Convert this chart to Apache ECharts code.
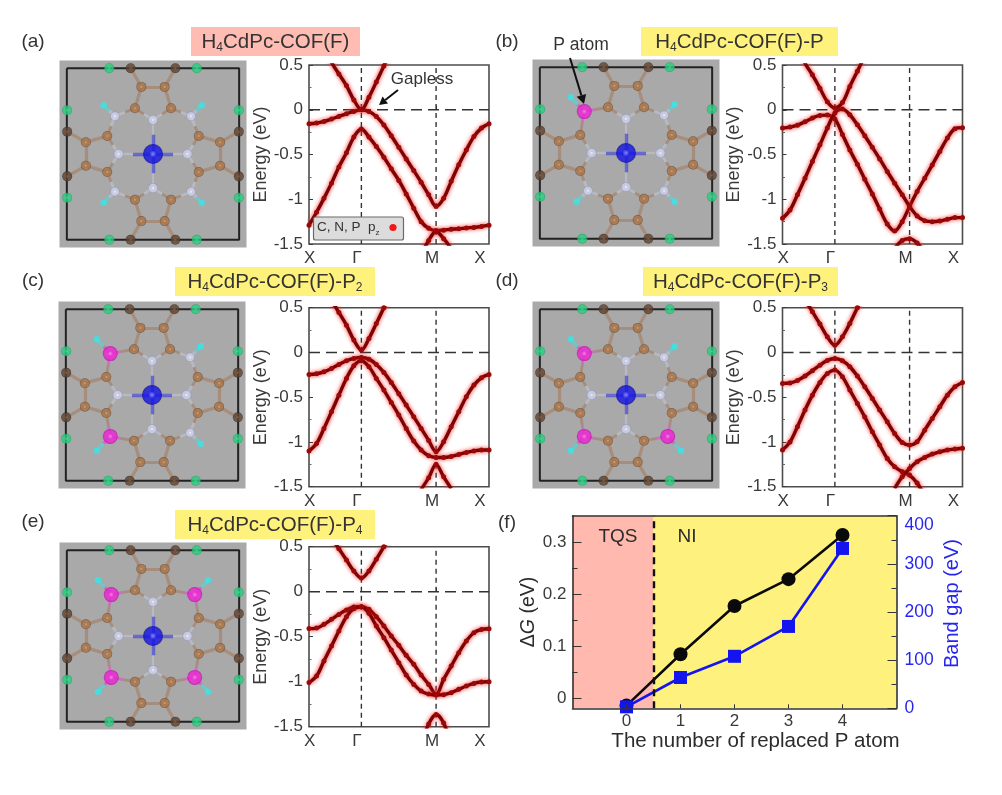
<!DOCTYPE html>
<html><head><meta charset="utf-8">
<style>html,body{margin:0;padding:0;background:#fff}#c{width:1002px;height:795px;filter:blur(0.45px)}</style>
<script src="https://cdn.jsdelivr.net/npm/echarts@6/dist/echarts.min.js"></script>
</head><body><div id="c"></div>
<script>
const GAMMA = 0.291, MPOINT = 0.706;
const kPath = [0,.042,.083,.125,.166,.208,.249,.291,.333,.374,.416,.457,.499,.540,.582,.623,.665,.706,.748,.790,.832,.874,.916,.958,1];
const kLabels = ['X','Γ','M','X'];
const kLabelPos = [0.004,.266,.684,.95];
const n = null;

const aBand1 = [-.157,-.149,-.131,-.104,-.075,-.045,-.019,0,-.02,-.075,-.17,-.29,-.42,-.55,-.68,-.81,-.95,-1.08,-.99,-.80,-.615,-.45,-.30,-.205,-.157];
const aBand2 = [-1.29,-1.145,-.99,-.82,-.64,-.48,-.305,-.215,-.305,-.41,-.53,-.66,-.79,-.94,-1.10,-1.25,-1.325,-1.35,-1.345,-1.335,-1.33,-1.32,-1.315,-1.305,-1.29];
const aCond  = [.95,.85,.72,.53,.40,.27,.11,0,.14,.31,.49,.67,n,n,n,n,n,n,n,n,n,n,n,n,n];
const aLow   = [n,n,n,n,n,n,n,n,n,n,n,n,n,n,n,-1.62,-1.46,-1.36,-1.44,-1.55,n,n,n,n,n];

const bBand1 = [-.205,-.194,-.172,-.134,-.093,-.063,-.06,-.104,-.276,-.45,-.61,-.776,-.94,-1.11,-1.276,-1.355,-1.25,-1.08,-.914,-.765,-.616,-.466,-.317,-.213,-.2];
const bBand2 = [-1.213,-1.12,-.95,-.765,-.578,-.392,-.205,-.037,.007,-.056,-.168,-.29,-.42,-.55,-.69,-.82,-.95,-1.08,-1.186,-1.24,-1.25,-1.243,-1.224,-1.205,-1.205];
const bCond  = [.95,.85,.72,.52,.39,.24,.09,.02,.08,.26,.43,.60,n,n,n,n,n,n,n,n,n,n,n,n,n];
const bLow   = [n,n,n,n,n,n,n,n,n,n,n,n,n,n,n,-1.55,-1.46,-1.44,-1.49,-1.6,n,n,n,n,n];

const cBand1 = [-.246,-.238,-.216,-.179,-.134,-.093,-.067,-.056,-.075,-.134,-.223,-.335,-.462,-.588,-.719,-.849,-.983,-1.11,-.998,-.83,-.663,-.495,-.365,-.283,-.246];
const cBand2 = [-1.10,-1.017,-.85,-.663,-.477,-.29,-.149,-.093,-.16,-.29,-.42,-.559,-.70,-.85,-.99,-1.09,-1.155,-1.173,-1.173,-1.162,-1.14,-1.117,-1.10,-1.09,-1.09];
const cCond  = [1.0,.87,.74,.585,.447,.305,.138,.026,.156,.324,.5,.68,n,n,n,n,n,n,n,n,n,n,n,n,n];
const cLow   = [n,n,n,n,n,n,n,n,n,n,n,n,n,n,n,-1.53,-1.40,-1.25,-1.39,-1.52,n,n,n,n,n];

const dBand1 = [-.346,-.34,-.313,-.264,-.205,-.142,-.089,-.067,-.093,-.16,-.264,-.384,-.514,-.644,-.775,-.905,-1.005,-1.035,-.998,-.868,-.737,-.607,-.477,-.384,-.335];
const dBand2 = [-1.09,-1.0,-.83,-.644,-.477,-.335,-.235,-.197,-.272,-.42,-.57,-.72,-.886,-1.035,-1.184,-1.277,-1.333,-1.37,-1.46,-1.6,n,n,n,n,n];
const dBand3 = [n,n,n,n,n,n,n,n,n,n,n,n,n,n,n,-1.52,-1.39,-1.296,-1.22,-1.173,-1.136,-1.11,-1.09,-1.08,-1.07];
const dCond  = [n,n,n,.59,.455,.317,.175,.08,.175,.324,.5,.66,n,n,n,n,n,n,n,n,n,n,n,n,n];

const eBand1 = [-.41,-.404,-.363,-.307,-.252,-.204,-.17,-.167,-.196,-.278,-.381,-.493,-.596,-.707,-.807,-.926,-1.03,-1.14,-.974,-.826,-.678,-.548,-.456,-.419,-.411];
const eBand2 = [-1.01,-.937,-.77,-.604,-.437,-.278,-.189,-.167,-.24,-.381,-.511,-.648,-.789,-.926,-1.03,-1.104,-1.137,-1.148,-1.144,-1.122,-1.085,-1.048,-1.019,-1.004,-1.0];
const eCond  = [n,n,n,.6,.478,.352,.23,.152,.23,.36,.5,.637,n,n,n,n,n,n,n,n,n,n,n,n,n];
const eLow   = [n,n,n,n,n,n,n,n,n,n,n,n,n,n,n,-1.7,-1.47,-1.365,-1.46,-1.7,n,n,n,n,n];

const replaced = [0,1,2,3,4];
const deltaG   = [-.014,.0846,.1775,.229,.314];
const bandGap  = [3,64,108,170,332];
const gTicks = [0,.1,.2,.3];
const gMinor = [.05,.15,.25];

// Atom sites in the unit cell, Cd at the origin
const siteCd = [[0,0]];
const siteOuter = [[-67,-257],[67,-257],[-67,257],[67,257],[-257,-67],[-257,67],[257,-67],[257,67]];
const siteGreen = [[-131,-257],[131,-257],[-131,257],[131,257],[-257,-131],[-257,131],[257,-131],[257,131]];
const siteRing  = [[-35,-201],[35,-201],[-35,201],[35,201],[-201,-35],[-201,35],[201,-35],[201,35]];
const siteInner = [[-54,-137],[54,-137],[-54,137],[54,137],[-137,-54],[-137,54],[137,-54],[137,54]];
const siteNIn   = [[0,-102],[0,102],[-103,0],[103,0]];
const siteNOut  = [[-114,-113],[114,-113],[-114,113],[114,113]];
const siteP     = [[-125,-124],[125,-124],[-125,124],[125,124]];
const siteF     = [[-148,-146],[146,-146],[-148,146],[146,146]];
const siteFP    = [[-165,-167],[165,-167],[-165,167],[165,167]];
const pSites = [[],[0],[0,2],[0,2,3],[0,1,2,3]];

const titles = [
 {parts:['H','4','CdPc-COF(F)'],bg:'#ffbcb2'},
 {parts:['H','4','CdPc-COF(F)-P'],bg:'#fff27c'},
 {parts:['H','4','CdPc-COF(F)-P','2'],bg:'#fff27c'},
 {parts:['H','4','CdPc-COF(F)-P','3'],bg:'#fff27c'},
 {parts:['H','4','CdPc-COF(F)-P','4'],bg:'#fff27c'}];

const FONT = '"Liberation Sans", Arial, sans-serif';
const INK = '#3a3a3a';
const grids=[],xAxes=[],yAxes=[],series=[],graphic=[];

const molCentres = [[153,154],[626,153],[152,395],[626,395],[153,636]];
const bandBoxes = [[309,65,180,179],[782.5,65,180,179],[309,307.7,180,179],[782.5,307.7,180,179],[309,546.7,180,180]];
const titleBoxes = [[191,27,169,29],[641,27,197,29],[175,267,200,29],[643,267,195,29],[175,510,200,29]];
const panelTags = [['(a)',33,42],['(b)',507,42],['(c)',33,281],['(d)',507,281],['(e)',33,522],['(f)',507,523]];
const bandSets = [[aBand1,aBand2,aCond,aLow],[bBand1,bBand2,bCond,bLow],[cBand1,cBand2,cCond,cLow],[dBand1,dBand2,dBand3,dCond],[eBand1,eBand2,eCond,eLow]];

function atomGrad(c0,c1,c2){return new echarts.graphic.RadialGradient(.5,.5,.5,[{offset:0,color:c0},{offset:.35,color:c1},{offset:.75,color:c1},{offset:1,color:c2}]);}
function half(a,b,ca,cb,w,out){const m=[(a[0]+b[0])/2,(a[1]+b[1])/2];
 out.push({coords:[a,m],lineStyle:{color:ca,width:w}},{coords:[m,b],lineStyle:{color:cb,width:w}});}

function addMolecule(i){
 const [cx,cy]=molCentres[i];
 grids.push({left:cx-93.5,top:cy-93.5,width:187,height:187,show:true,backgroundColor:'#a9a9a9',borderWidth:0});
 const ax=grids.length-1;
 const hid={gridIndex:ax,type:'value',min:-280,max:280,show:false};
 xAxes.push({...hid});yAxes.push({...hid,inverse:true});
 const xi=xAxes.length-1,yi=yAxes.length-1;
 const C='#a5744f',N='#c6c9de',P='#e23fc8',FC='#37e6e6',B='#1c1cdc';
 const isP=k=>pSites[i].includes(k);
 const nSite=k=>isP(k)?siteP[k]:siteNOut[k];
 const bonds=[];
 const near=(a,b,d)=>Math.hypot(a[0]-b[0],a[1]-b[1])<d;
 siteOuter.forEach(o=>siteRing.forEach(r=>{if(near(o,r,70))half(o,r,C,C,3.2,bonds);}));
 siteRing.forEach((r,a)=>siteRing.forEach((q,b)=>{if(a<b&&near(r,q,75))half(r,q,C,C,3.2,bonds);}));
 siteRing.forEach(r=>siteInner.forEach(q=>{if(near(r,q,70))half(r,q,C,C,3.2,bonds);}));
 siteInner.forEach(q=>siteNIn.forEach(s=>{if(near(q,s,75))half(q,s,C,N,2.8,bonds);}));
 siteInner.forEach(q=>siteNOut.forEach((s,k)=>{if(near(q,s,72))half(q,nSite(k),C,isP(k)?P:N,2.8,bonds);}));
 siteNOut.forEach((s,k)=>half(nSite(k),isP(k)?siteFP[k]:siteF[k],isP(k)?P:N,FC,3.4,bonds));
 siteNIn.forEach(s=>half(s,siteCd[0],N,N,2.4,bonds));
 const stubs=[[[-60,0],[60,0]],[[0,-58],[0,58]]].map(c=>({coords:c,lineStyle:{color:B,width:3.4}}));
 const base={xAxisIndex:xi,yAxisIndex:yi,silent:true,animation:false};
 series.push({...base,type:'line',z:2,showSymbol:false,lineStyle:{color:'#222',width:2},
   data:[[-258,-257],[258,-257],[258,257],[-258,257],[-258,-257]]});
 series.push({...base,type:'lines',coordinateSystem:'cartesian2d',z:3,data:bonds.concat(stubs),effect:{show:false}});
 const atoms=(d,size,col)=>series.push({...base,type:'scatter',z:4,symbolSize:size,itemStyle:{color:col},data:d});
 atoms(siteGreen,10,atomGrad('#5cf0a6','#27cf7f','#17a863'));
 atoms(siteOuter,10,atomGrad('#8a6a50','#5f4332','#3d2a1e'));
 atoms(siteRing,10,atomGrad('#e0a878','#a87448','#6d4a30'));
 atoms(siteInner,10,atomGrad('#e0a878','#a87448','#6d4a30'));
 atoms(siteNIn,10,atomGrad('#ffffff','#cdd0ea','#9093b6'));
 atoms(siteNOut.filter((s,k)=>!isP(k)),9.5,atomGrad('#ffffff','#cdd0ea','#9093b6'));
 atoms(pSites[i].map(k=>siteP[k]),15,atomGrad('#ff8cf0','#ee22d4','#bb10aa'));
 atoms(siteF.filter((s,k)=>!isP(k)),6.5,'#37e6e6');
 atoms(pSites[i].map(k=>siteFP[k]),6.5,'#37e6e6');
 atoms(siteCd,20,atomGrad('#9a9aff','#1414e6','#0c0ca0'));
}

function addBands(i){
 const [l,t,w,h]=bandBoxes[i];
 grids.push({left:l,top:t,width:w,height:h,show:true,backgroundColor:'#fff',borderColor:'#4d4d4d',borderWidth:1.6});
 const ax=grids.length-1;
 xAxes.push({gridIndex:ax,type:'value',min:0,max:1,
   axisLine:{show:false},splitLine:{show:false},
   axisTick:{show:true,inside:true,length:4,customValues:[GAMMA,MPOINT],lineStyle:{color:INK}},
   axisLabel:{show:true,customValues:kLabelPos,formatter:v=>kLabels[kLabelPos.indexOf(v)],margin:6,fontSize:17,color:INK,fontFamily:FONT}});
 yAxes.push({gridIndex:ax,type:'value',min:-1.5,max:.5,interval:.5,
   axisLine:{show:false},splitLine:{show:false},
   axisTick:{show:true,inside:true,length:4,lineStyle:{color:INK}},
   minorTick:{show:true,splitNumber:2,length:2.5,lineStyle:{color:'#666'}},
   axisLabel:{margin:6,fontSize:17,color:INK,fontFamily:FONT},
   name:'Energy (eV)',nameLocation:'middle',nameGap:38,nameTextStyle:{fontSize:18,color:INK,fontFamily:FONT}});
 const xi=xAxes.length-1,yi=yAxes.length-1;
 const base={xAxisIndex:xi,yAxisIndex:yi,silent:true,animation:false,showSymbol:false,type:'line'};
 series.push({...base,z:2,data:[[0,0],[1,0]],lineStyle:{color:'#333',width:1.5,type:[11,6]}});
 series.push({...base,z:2,data:[[GAMMA,-1.5],[GAMMA,.5]],lineStyle:{color:'#333',width:1.4,type:[5,4]}});
 series.push({...base,z:2,data:[[MPOINT,-1.5],[MPOINT,.5]],lineStyle:{color:'#333',width:1.4,type:[5,4]}});
 bandSets[i].forEach(b=>{
  const d=[];b.forEach((e,j)=>{if(e!==null)d.push([kPath[j],e]);});
  series.push({xAxisIndex:xi,yAxisIndex:yi,silent:true,animation:false,type:'line',z:3,smooth:.35,
    showSymbol:true,showAllSymbol:true,symbol:'circle',symbolSize:5,
    itemStyle:{color:'#9c0808'},
    lineStyle:{color:'#7a0404',width:3.4,shadowColor:'#ff1c1c',shadowBlur:4},data:d});
 });
}

function addTitle(i){
 const [x,y,w,h]=titleBoxes[i],t=titles[i];
 graphic.push({type:'rect',z:1,shape:{x,y,width:w,height:h},style:{fill:t.bg}});
 const rich={a:{fontSize:20.5,fontFamily:FONT,fill:'#333',verticalAlign:'top',lineHeight:22},
             s:{fontSize:12,fontFamily:FONT,fill:'#333',verticalAlign:'bottom',lineHeight:22}};
 const text=t.parts.map((p,k)=>(k%2?'{s|':'{a|')+p+'}').join('');
 graphic.push({type:'text',z:2,x:x+w/2,y:y+h/2+1,style:{text,rich,align:'center',verticalAlign:'middle'}});
}

for(let i=0;i<5;i++){addMolecule(i);addBands(i);addTitle(i);}

// panel (f)
grids.push({left:572.5,top:515.7,width:324,height:192.6,show:false});
const fg=grids.length-1;
const fAxisLine={show:true,lineStyle:{color:'#333',width:1.6}};
xAxes.push({gridIndex:fg,type:'value',min:-1,max:5,z:6,axisLine:{...fAxisLine,onZero:false},splitLine:{show:false},
  axisTick:{show:true,inside:true,length:4,customValues:replaced,lineStyle:{color:'#333'}},
  axisLabel:{customValues:replaced,margin:5,fontSize:17,color:INK,fontFamily:FONT},
  name:'The number of replaced P atom',nameLocation:'middle',nameGap:19,
  nameTextStyle:{fontSize:20.5,color:'#2c2c2c',fontFamily:FONT,padding:[0,0,0,42]}});
const fx=xAxes.length-1;
xAxes.push({gridIndex:fg,type:'value',position:'top',min:-1,max:5,z:6,axisLine:{...fAxisLine,onZero:false},splitLine:{show:false},axisTick:{show:false},axisLabel:{show:false}});
yAxes.push({gridIndex:fg,type:'value',min:-.0192,max:.351,z:6,axisLine:{...fAxisLine,onZero:false},splitLine:{show:false},
  axisTick:{show:true,inside:true,length:9,customValues:gTicks,lineStyle:{color:'#333'}},
  axisLabel:{customValues:gTicks,margin:6,fontSize:17,color:INK,fontFamily:FONT,verticalAlign:'middle',formatter:v=>String(v)},
  name:'{a|Δ}{i|G}{a| (eV)}',nameLocation:'middle',nameGap:34,
  nameTextStyle:{rich:{a:{fontSize:19.5,color:'#2c2c2c',fontFamily:FONT},i:{fontSize:19.5,color:'#2c2c2c',fontStyle:'italic',fontFamily:FONT}}}});
const fyl=yAxes.length-1;
yAxes.push({gridIndex:fg,type:'value',position:'left',min:-.0192,max:.351,z:6,axisLine:{show:false,onZero:false},splitLine:{show:false},
  axisTick:{show:true,inside:true,length:5,customValues:gMinor,lineStyle:{color:'#333'}},axisLabel:{show:false}});
yAxes.push({gridIndex:fg,type:'value',position:'right',min:0,max:400,interval:100,z:6,axisLine:{...fAxisLine,onZero:false},splitLine:{show:false},
  axisTick:{show:true,inside:true,length:9,lineStyle:{color:'#333'}},
  minorTick:{show:true,splitNumber:2,length:5,lineStyle:{color:'#333'}},
  axisLabel:{margin:8,fontSize:17.5,color:'#2626f0',fontFamily:FONT,verticalAlignMaxLabel:'top'},
  name:'Band gap (eV)',nameLocation:'middle',nameGap:46,nameRotate:90,
  nameTextStyle:{fontSize:20,color:'#2626f0',fontFamily:FONT,padding:[0,0,0,17]}});
const fyr=yAxes.length-1;
const fBase={xAxisIndex:fx,silent:true,animation:false,type:'line'};
series.push({...fBase,yAxisIndex:fyl,z:1,showSymbol:false,data:[],
  markArea:{silent:true,itemStyle:{opacity:1},data:[
    [{xAxis:-1,yAxis:-.0192,itemStyle:{color:'#ffb9ae'}},{xAxis:.5,yAxis:.351}],
    [{xAxis:.5,yAxis:-.0192,itemStyle:{color:'#fff17d'}},{xAxis:5,yAxis:.351}]]},
  markLine:{silent:true,symbol:'none',label:{show:false},lineStyle:{color:'#111',width:2.4,type:[7,5]},data:[{xAxis:.5}]}});
series.push({...fBase,yAxisIndex:fyl,z:3,symbol:'circle',symbolSize:14,itemStyle:{color:'#0a0a0a'},lineStyle:{color:'#0a0a0a',width:2.6},
  data:replaced.map((r,i)=>[r,deltaG[i]])});
series.push({...fBase,yAxisIndex:fyr,z:4,symbol:'rect',symbolSize:13,itemStyle:{color:'#1414ee'},lineStyle:{color:'#1414ee',width:2.6},
  data:replaced.map((r,i)=>[r,bandGap[i]])});

const plain=(text,x,y,size,fill,align)=>({type:'text',z:20,x,y,style:{text,fontSize:size,fontFamily:FONT,fill:fill||'#333',align:align||'center',verticalAlign:'middle'}});
panelTags.forEach(p=>graphic.push(plain(p[0],p[1],p[2],19)));
graphic.push(plain('TQS',618,537,19,'#2c2c2c'),plain('NI',687,537,19,'#2c2c2c'));
graphic.push(plain('Gapless',422,79,17));
graphic.push(plain('P atom',581,45,17.5));
// annotation arrows
const arrow=(x1,y1,x2,y2,w,s)=>{const a=Math.atan2(y2-y1,x2-x1),c=Math.cos(a),d=Math.sin(a);
 graphic.push({type:'line',z:20,shape:{x1,y1,x2:x2-c*s,y2:y2-d*s},style:{stroke:'#111',lineWidth:w}});
 graphic.push({type:'polygon',z:20,shape:{points:[[x2,y2],[x2-c*s-d*s*.55,y2-d*s+c*s*.55],[x2-c*s+d*s*.55,y2-d*s-c*s*.55]]},style:{fill:'#111'}});};
arrow(398,90,379,105,2,8);
arrow(570,58,584,104,2,9);
// legend plate in (a)
graphic.push({type:'rect',z:20,shape:{x:313.5,y:217,width:90,height:23,r:2},style:{fill:'#dcdcdc',stroke:'#6a6a6a',lineWidth:1.2}});
graphic.push({type:'text',z:21,x:317,y:228.5,style:{text:'{a|C, N, P}{a|  p}{s|z}',align:'left',verticalAlign:'middle',
  rich:{a:{fontSize:13.5,fontFamily:FONT,fill:'#333',lineHeight:16,verticalAlign:'top'},s:{fontSize:8,fontFamily:FONT,fill:'#333',lineHeight:16,verticalAlign:'bottom'}}}});
graphic.push({type:'circle',z:21,shape:{cx:393,cy:227.5,r:3.6},style:{fill:'#f01818'}});

const chart=echarts.init(document.getElementById('c'),null,{renderer:'canvas'});
chart.setOption({animation:false,backgroundColor:'#fff',tooltip:{show:false},legend:{show:false},
 grid:grids,xAxis:xAxes,yAxis:yAxes,series,graphic:{elements:graphic}});
</script></body></html>
